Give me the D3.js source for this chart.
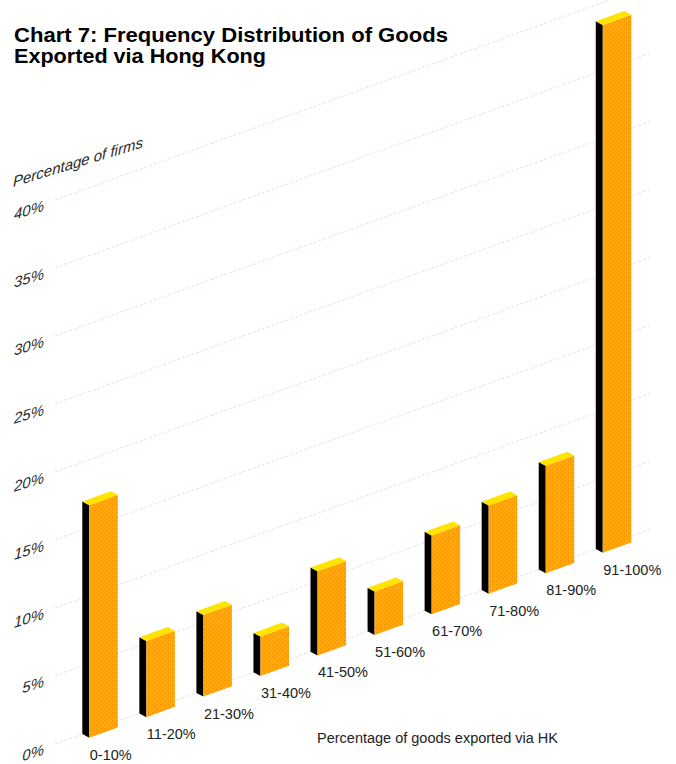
<!DOCTYPE html>
<html>
<head>
<meta charset="utf-8">
<script src="https://cdn.jsdelivr.net/npm/d3@7"></script>
<style>
  html, body { margin: 0; padding: 0; background: #fff; }
  svg { display: block; }
  text { font-family: "Liberation Sans", Arial, Helvetica, sans-serif; }
</style>
</head>
<body>
<div id="chart"></div>
<script>
// Share of surveyed firms by the proportion of their goods exported via Hong Kong
const categories = ["0-10%", "11-20%", "21-30%", "31-40%", "41-50%", "51-60%", "61-70%", "71-80%", "81-90%", "91-100%"];
const firmShares = [17.1, 5.6, 6.0, 2.9, 6.2, 3.2, 5.8, 6.5, 7.9, 38.8];
const tickValues = [0, 5, 10, 15, 20, 25, 30, 35, 40];
const tickLabels = ["0%", "5%", "10%", "15%", "20%", "25%", "30%", "35%", "40%"];
const titleLines = ["Chart 7: Frequency Distribution of Goods", "Exported via Hong Kong"];
const titleWidths = [434, 252];

const W = 676, H = 764;
const svg = d3.select("#chart").append("svg").attr("width", W).attr("height", H);

// Oblique projection: floor rises to the right, depth recedes up-left
const x0 = 89.3, y0 = 737.7, slope = 0.3603;
const depth = { dx: -7, dy: -3.7 };
const base = x => y0 - slope * (x - x0);

const x = d3.scaleBand().domain(categories).range([x0, x0 + 542]).paddingInner(0.5).paddingOuter(0).align(0);
const h = d3.scaleLinear().domain([0, 40]).range([0, 544]);

// front/back point helper: (front x, value, depth fraction)
const pt = (fx, v, d) => [fx + depth.dx * d, base(fx) - h(v) + depth.dy * d];

// Texture for the front faces
const defs = svg.append("defs");
const pat = defs.append("pattern").attr("id", "grain").attr("patternUnits", "userSpaceOnUse")
  .attr("width", 4).attr("height", 4);
pat.append("rect").attr("width", 4).attr("height", 4).attr("fill", "#ffa800");
pat.append("rect").attr("x", 0).attr("y", 0).attr("width", 1).attr("height", 1).attr("fill", "#f08a00");
pat.append("rect").attr("x", 2).attr("y", 2).attr("width", 1).attr("height", 1).attr("fill", "#f29000");
pat.append("rect").attr("x", 3).attr("y", 1).attr("width", 1).attr("height", 1).attr("fill", "#ffb81a");
pat.append("rect").attr("x", 1).attr("y", 3).attr("width", 1).attr("height", 1).attr("fill", "#ffb81a");

// Gridlines on the back plane
const gx0 = 62, gx1 = 657;
svg.append("g").selectAll("line").data(tickValues).join("line")
  .attr("x1", v => pt(gx0, v, 1)[0]).attr("y1", v => pt(gx0, v, 1)[1])
  .attr("x2", v => pt(gx1, v, 1)[0]).attr("y2", v => pt(gx1, v, 1)[1])
  .attr("stroke", "#f5d8df").attr("stroke-width", 1).attr("stroke-dasharray", "3,2");

// Y tick labels, sheared to follow the floor
const skew = -17;
svg.append("g").selectAll("text").data(tickValues).join("text")
  .attr("transform", (v) => {
    const p = pt(51, v, 1);
    return `translate(${p[0]},${p[1]}) skewY(${skew})`;
  })
  .attr("text-anchor", "end").attr("dy", "0.45em")
  .attr("font-size", 15).attr("font-style", "italic").attr("fill", "#2a2a2a")
  .text((v, i) => tickLabels[i]);

svg.append("text")
  .attr("transform", `translate(13,187) skewY(${skew})`)
  .attr("font-size", 15).attr("font-style", "italic").attr("fill", "#2a2a2a")
  .text("Percentage of firms");

// Bars
const bw = x.bandwidth();
const bars = svg.append("g").selectAll("g").data(categories).join("g");
const poly = pts => "M" + pts.map(p => p.join(",")).join("L") + "Z";

bars.append("path") // left side
  .attr("d", (c, i) => {
    const xl = x(c), v = firmShares[i];
    return poly([pt(xl, 0, 0), pt(xl, v, 0), pt(xl, v, 1), pt(xl, 0, 1)]);
  })
  .attr("fill", "#000");

bars.append("path") // front face
  .attr("d", (c, i) => {
    const xl = x(c), xr = xl + bw, v = firmShares[i];
    return poly([pt(xl, 0, 0), pt(xr, 0, 0), pt(xr, v, 0), pt(xl, v, 0)]);
  })
  .attr("fill", "url(#grain)");

bars.append("path") // top face
  .attr("d", (c, i) => {
    const xl = x(c), xr = xl + bw, v = firmShares[i];
    return poly([pt(xl, v, 0), pt(xr, v, 0), pt(xr, v, 1), pt(xl, v, 1)]);
  })
  .attr("fill", "#ffe400");

// Category labels beneath each bar
svg.append("g").selectAll("text").data(categories).join("text")
  .attr("x", c => x(c) + 0.5)
  .attr("y", c => base(x(c)) + 22)
  .attr("font-size", 14.5).attr("fill", "#222")
  .text(c => c);

// Axis title
svg.append("text").attr("x", 317).attr("y", 743)
  .attr("font-size", 14).attr("fill", "#222")
  .attr("textLength", 241).attr("lengthAdjust", "spacingAndGlyphs")
  .text("Percentage of goods exported via HK");

// Chart title
svg.append("g").selectAll("text").data(titleLines).join("text")
  .attr("x", 14).attr("y", (d, i) => 41.7 + i * 21.6)
  .attr("font-size", 19.5).attr("font-weight", "bold").attr("fill", "#000")
  .attr("textLength", (d, i) => titleWidths[i]).attr("lengthAdjust", "spacingAndGlyphs")
  .text(d => d);
</script>
</body>
</html>
